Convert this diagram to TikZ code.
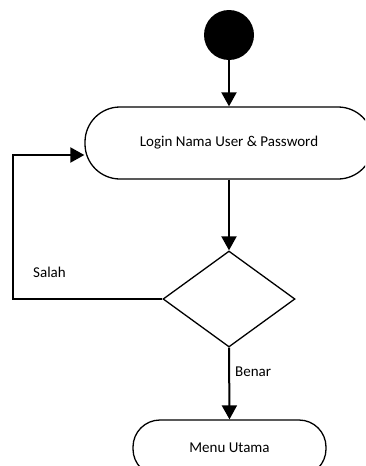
\documentclass[tikz,border=0pt]{standalone}
\usepackage{fontspec}
\setmainfont{Carlito}
\usetikzlibrary{shapes.geometric,arrows.meta}
\begin{document}
\begin{tikzpicture}[x=1pt,y=-1pt,
  flow/.style={line width=2pt,-{Triangle[length=14pt,width=15pt]}},
  activity/.style={draw,line width=1.3pt,rounded corners=35pt,inner sep=0pt,font=\fontsize{15}{17}\selectfont},
  lbl/.style={font=\fontsize{15}{17}\selectfont,inner sep=0pt}]
\useasboundingbox (0,0) rectangle (365,466);
\begin{scope}
\clip (0,0) rectangle (365,466);
\node[circle,fill=black,minimum size=50pt,inner sep=0pt] (start) at (229,35) {};
\node[activity,minimum width=288pt,minimum height=72pt] (login) at (229,143) {Login Nama User \& Password};
\node[diamond,draw,line width=1.3pt,inner sep=0pt,minimum width=132pt,minimum height=96pt] (dia) at (229,299) {};
\node[activity,rounded corners=27pt,minimum width=193pt,minimum height=56pt] (menu) at (229.5,448) {Menu Utama};
\coordinate (fb) at (13,155);
\draw[flow] (start) -- (login);
\draw[flow] (login) -- (dia);
\draw[flow] (dia.south) -- (menu.north);
\draw[line width=2pt,-{Triangle[length=14pt,width=15pt]}] (dia.west) -| (fb) -- (login.west |- fb);
\node[lbl,anchor=west] (salah) at (33,272) {Salah};
\node[lbl,anchor=west] (benar) at (235,372) {Benar};
\end{scope}
\end{tikzpicture}
\end{document}
